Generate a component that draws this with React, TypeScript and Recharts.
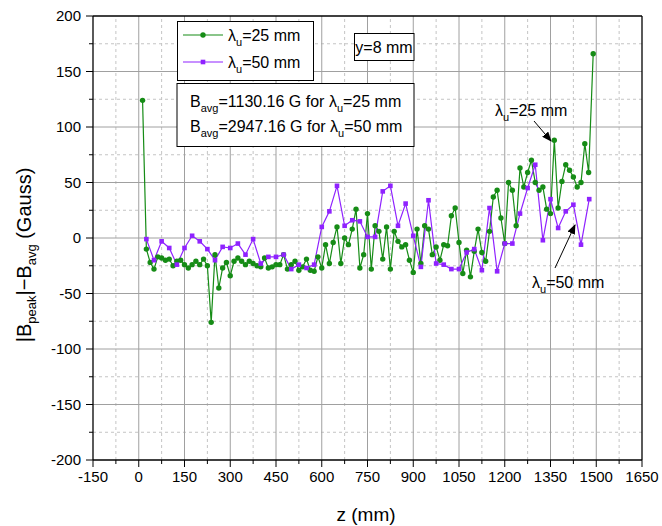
import React from 'react';
import { LineChart, Line, XAxis, YAxis, ReferenceLine } from 'recharts';

const GREEN = '#168c16';
const PURPLE = '#8f22ff';

// z positions (mm) and |Bpeak|-Bavg (Gauss)
const zGreen = [
  12.5, 25, 37.5, 50, 62.5, 75, 87.5, 100, 112.5, 125, 137.5, 150, 162.5, 175, 187.5, 200,
  212.5, 225, 237.5, 250, 262.5, 275, 287.5, 300, 312.5, 325, 337.5, 350, 362.5, 375, 387.5, 400,
  412.5, 425, 437.5, 450, 462.5, 475, 487.5, 500, 512.5, 525, 537.5, 550, 562.5, 575, 587.5, 600,
  612.5, 625, 637.5, 650, 662.5, 675, 687.5, 700, 712.5, 725, 737.5, 750, 762.5, 775, 787.5, 800,
  812.5, 825, 837.5, 850, 862.5, 875, 887.5, 900, 912.5, 925, 937.5, 950, 962.5, 975, 987.5, 1000,
  1012.5, 1025, 1037.5, 1050, 1062.5, 1075, 1087.5, 1100, 1112.5, 1125, 1137.5, 1150, 1162.5, 1175,
  1187.5, 1200, 1212.5, 1225, 1237.5, 1250, 1262.5, 1275, 1287.5, 1300, 1312.5, 1325, 1337.5, 1350,
  1362.5, 1375, 1387.5, 1400, 1412.5, 1425, 1437.5, 1450, 1462.5, 1475, 1490,
];
const bGreen = [
  124, -10, -22, -28, -17, -18, -20, -19, -25, -21, -20, -24, -27, -24, -21, -24,
  -19, -25, -76, -15, -45, -27, -22, -34, -21, -18, -21, -24, -21, -23, -25, -26,
  -18, -27, -26, -24, -24, -15, -28, -24, -21, -29, -26, -19, -29, -30, -17, -27,
  -6, -23, -4, 10, -23, 0, -6, 8, 26, -27, -15, 22, -28, 11, 6, -19,
  10, -28, 6, -3, -8, -6, -20, -31, 8, -23, 11, 8, -15, -8, -20, -6,
  -7, 20, 27, -4, -32, -11, -35, -12, 8, -13, -21, 6, 37, 43,
  18, -5, 50, 43, 11, 63, 46, 59, 70, 50, 43, 46, 26, 22,
  88, 27, 51, 66, 61, 55, 46, 50, 85, 59, 166,
];

const zPurple = [
  25, 50, 75, 100, 125, 150, 175, 200, 225, 250, 275, 300, 325, 350, 375, 400, 425, 450, 475, 500,
  525, 550, 575, 600, 625, 650, 675, 700, 725, 750, 775, 800, 825, 850, 875, 900, 925, 950, 975, 1000,
  1025, 1050, 1075, 1100, 1125, 1150, 1175, 1200, 1225, 1250, 1275, 1300, 1325, 1350, 1375, 1400,
  1425, 1450, 1477,
];
const bPurple = [
  -1, -20, -3, -9, -24, -9, 2, -3, -10, -20, -8, -9, -5, -15, -1, -23, -17, -17, -15, -28,
  -24, -27, -24, 10, 24, 47, 11, 16, 15, 1, 1, 42, 47, 11, 31, 2, -26, 34, -23, -24,
  -28, -28, -13, -10, -29, 27, -30, -5, -5, 22, 45, 66, -2, 35, 9, 24,
  30, -6, 35,
];

const xTicks = [-150, 0, 150, 300, 450, 600, 750, 900, 1050, 1200, 1350, 1500, 1650];
const xMinor = [-75, 75, 225, 375, 525, 675, 825, 975, 1125, 1275, 1425, 1575];
const yTicks = [-200, -150, -100, -50, 0, 50, 100, 150, 200];
const yMinor = [-175, -125, -75, -25, 25, 75, 125, 175];

const xAll = [...xTicks, ...xMinor].sort((a, b) => a - b);
const yAll = [...yTicks, ...yMinor].sort((a, b) => a - b);

const greenData = zGreen.map((z, i) => ({ z, b: bGreen[i] }));
const purpleData = zPurple.map((z, i) => ({ z, b: bPurple[i] }));

const FONT = '"Liberation Sans", Arial, sans-serif';
const MAJOR = 7;
const MINOR = 4;

// tick marks drawn by hand so that major and minor ticks can share one axis
const BottomTick = (props: any) => {
  const { x, y, payload } = props;
  const major = xTicks.includes(payload.value);
  return (
    <g>
      <line x1={x} y1={y} x2={x} y2={y + (major ? MAJOR : MINOR)} stroke="#000" strokeWidth={1} />
      {major && (
        <text x={x} y={y + 11} dy="0.71em" textAnchor="middle" fontSize={15} fontFamily={FONT} fill="#000">
          {payload.value}
        </text>
      )}
    </g>
  );
};

const LeftTick = (props: any) => {
  const { x, y, payload } = props;
  const major = yTicks.includes(payload.value);
  return (
    <g>
      <line x1={x - (major ? MAJOR : MINOR)} y1={y} x2={x} y2={y} stroke="#000" strokeWidth={1} />
      {major && (
        <text x={x - 12} y={y} dy="0.355em" textAnchor="end" fontSize={15} fontFamily={FONT} fill="#000">
          {payload.value}
        </text>
      )}
    </g>
  );
};

const TopTick = (props: any) => {
  const { x, y, payload } = props;
  const major = xTicks.includes(payload.value);
  return <line x1={x} y1={y} x2={x} y2={y + (major ? MAJOR : MINOR)} stroke="#000" strokeWidth={1} />;
};

const RightTick = (props: any) => {
  const { x, y, payload } = props;
  const major = yTicks.includes(payload.value);
  return <line x1={x - (major ? MAJOR : MINOR)} y1={y} x2={x} y2={y} stroke="#000" strokeWidth={1} />;
};

const SquareDot = (props: any) => {
  const { cx, cy, index } = props;
  return <rect key={`sq-${index}`} x={cx - 2.3} y={cy - 2.3} width={4.6} height={4.6} fill={PURPLE} />;
};

const Lam = ({ rest }: { rest: string }) => (
  <>
    λ<tspan dy={5} fontSize={11}>u</tspan>
    <tspan dy={-5}>{rest}</tspan>
  </>
);

const Bavg = ({ rest }: { rest: string }) => (
  <>
    B<tspan dy={5} fontSize={11}>avg</tspan>
    <tspan dy={-5}>{rest}</tspan>
  </>
);

function Overlay() {
  return (
    <svg
      width={662}
      height={526}
      style={{ position: 'absolute', left: 0, top: 0, pointerEvents: 'none' }}
      fontFamily={FONT}
    >
      <defs>
        <marker id="ah" markerWidth="10" markerHeight="8" refX="9" refY="4" orient="auto" markerUnits="userSpaceOnUse">
          <path d="M0,0 L10,4 L0,8 Z" fill="#000" />
        </marker>
      </defs>

      {/* legend */}
      <rect x={177.5} y={21.5} width={136} height={59} fill="#fff" stroke="#000" strokeWidth={1} />
      <line x1={183} y1={35} x2={223} y2={35} stroke={GREEN} strokeWidth={1.2} />
      <circle cx={203} cy={35} r={2.7} fill={GREEN} />
      <text x={228} y={41} fontSize={16}><Lam rest="=25 mm" /></text>
      <line x1={183} y1={62} x2={223} y2={62} stroke={PURPLE} strokeWidth={1.2} />
      <rect x={200.7} y={59.7} width={4.6} height={4.6} fill={PURPLE} />
      <text x={228} y={68} fontSize={16}><Lam rest="=50 mm" /></text>

      {/* y=8 mm */}
      <rect x={354.5} y={33.5} width={59.5} height={27} fill="#fff" stroke="#000" strokeWidth={1} />
      <text x={384} y={53} fontSize={16} textAnchor="middle">y=8 mm</text>

      {/* B avg box */}
      <rect x={177} y={83.5} width={237} height={63} fill="#fff" stroke="#000" strokeWidth={1} />
      <text x={190} y={107} fontSize={16}>
        <Bavg rest="=1130.16 G for " />
        <Lam rest="=25 mm" />
      </text>
      <text x={190} y={132} fontSize={16}>
        <Bavg rest="=2947.16 G for " />
        <Lam rest="=50 mm" />
      </text>

      {/* annotations */}
      <text x={495} y={116} fontSize={16}><Lam rest="=25 mm" /></text>
      <line x1={534} y1={121} x2={551} y2={141} stroke="#000" strokeWidth={1} markerEnd="url(#ah)" />
      <text x={532} y={288} fontSize={16}><Lam rest="=50 mm" /></text>
      <line x1={555} y1={268} x2={575} y2={225} stroke="#000" strokeWidth={1} markerEnd="url(#ah)" />

      {/* axis titles */}
      <text x={366} y={521} fontSize={19} textAnchor="middle">z (mm)</text>
      <text transform="translate(31,255) rotate(-90)" fontSize={20} textAnchor="middle">
        |B<tspan dy={5} fontSize={13}>peak</tspan>
        <tspan dy={-5}>|−B</tspan>
        <tspan dy={5} fontSize={13}>avg</tspan>
        <tspan dy={-5}> (Gauss)</tspan>
      </text>
    </svg>
  );
}

export default function App() {
  return (
    <div style={{ position: 'absolute', left: 0, top: 0, width: 662, height: 526, background: '#fff' }}>
      <LineChart width={662} height={526} margin={{ top: 15, right: 19, bottom: 65, left: 92 }}>
        <XAxis
          xAxisId="main"
          type="number"
          dataKey="z"
          domain={[-150, 1650]}
          ticks={xAll}
          interval={0}
          height={1}
          tickSize={0}
          tickMargin={0}
          tickLine={false}
          tick={<BottomTick />}
          stroke="#000"
          strokeWidth={1.3}
          allowDataOverflow
        />
        <XAxis
          xAxisId="top"
          orientation="top"
          type="number"
          domain={[-150, 1650]}
          ticks={xAll}
          interval={0}
          height={1}
          tickSize={0}
          tickMargin={0}
          tickLine={false}
          tick={<TopTick />}
          stroke="#000"
          strokeWidth={1.3}
        />
        <YAxis
          yAxisId="main"
          type="number"
          domain={[-200, 200]}
          ticks={yAll}
          interval={0}
          width={1}
          tickSize={0}
          tickMargin={0}
          tickLine={false}
          tick={<LeftTick />}
          stroke="#000"
          strokeWidth={1.3}
          allowDataOverflow
        />
        <YAxis
          yAxisId="right"
          orientation="right"
          type="number"
          domain={[-200, 200]}
          ticks={yAll}
          interval={0}
          width={1}
          tickSize={0}
          tickMargin={0}
          tickLine={false}
          tick={<RightTick />}
          stroke="#000"
          strokeWidth={1.3}
        />

        {xMinor.map((v) => (
          <ReferenceLine key={`xm${v}`} xAxisId="main" yAxisId="main" x={v} stroke="#c4c4c4" strokeDasharray="3 3" />
        ))}
        {yMinor.map((v) => (
          <ReferenceLine key={`ym${v}`} xAxisId="main" yAxisId="main" y={v} stroke="#c4c4c4" strokeDasharray="3 3" />
        ))}
        {xTicks.slice(1, -1).map((v) => (
          <ReferenceLine key={`xM${v}`} xAxisId="main" yAxisId="main" x={v} stroke="#a0a0a0" />
        ))}
        {yTicks.slice(1, -1).map((v) => (
          <ReferenceLine key={`yM${v}`} xAxisId="main" yAxisId="main" y={v} stroke="#a0a0a0" />
        ))}

        <Line
          xAxisId="main"
          yAxisId="main"
          data={greenData}
          dataKey="b"
          stroke={GREEN}
          strokeWidth={1.2}
          dot={{ r: 2.7, fill: GREEN, stroke: 'none' }}
          isAnimationActive={false}
        />
        <Line
          xAxisId="main"
          yAxisId="main"
          data={purpleData}
          dataKey="b"
          stroke={PURPLE}
          strokeWidth={1.2}
          dot={SquareDot}
          isAnimationActive={false}
        />
      </LineChart>
      <Overlay />
    </div>
  );
}
